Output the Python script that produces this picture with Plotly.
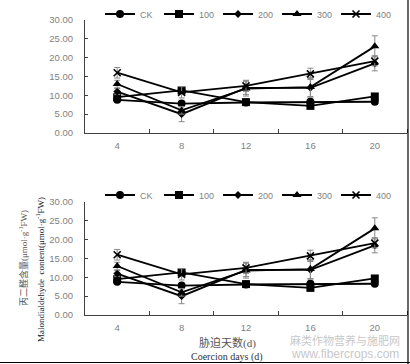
import plotly.graph_objects as go

days = [4, 8, 12, 16, 20]
series_names = ["CK", "100", "200", "300", "400"]
ck_vals = [8.8, 7.8, 8.1, 8.3, 8.3]
t100_vals = [9.5, 11.3, 8.2, 7.2, 9.7]
t200_vals = [11.0, 5.0, 12.0, 12.0, 18.5]
t300_vals = [13.0, 6.0, 11.8, 12.2, 23.0]
t400_vals = [16.0, 10.8, 12.5, 15.7, 19.1]
ck_err = [0.4, 0.4, 0.4, 0.5, 0.4]
t100_err = [0.5, 0.5, 0.5, 0.5, 0.5]
t200_err = [0.8, 2.0, 1.8, 2.5, 2.0]
t300_err = [1.0, 1.0, 2.0, 2.5, 2.8]
t400_err = [1.4, 1.5, 1.5, 1.5, 1.3]
y_ticks = [0, 5, 10, 15, 20, 25, 30]

values = [ck_vals, t100_vals, t200_vals, t300_vals, t400_vals]
errors = [ck_err, t100_err, t200_err, t300_err, t400_err]
symbols = ["circle", "square", "diamond", "triangle-up", "x-thin"]
msizes = [8, 8, 6, 8, 7]

fig = go.Figure()
for panel, (xa, ya, lg) in enumerate([("x", "y", "legend"), ("x2", "y2", "legend2")]):
    for name, v, e, s, ms in zip(series_names, values, errors, symbols, msizes):
        fig.add_trace(go.Scatter(
            x=days, y=v, name=name, mode="lines+markers",
            xaxis=xa, yaxis=ya, legend=lg,
            line=dict(color="black", width=1.8),
            marker=dict(symbol=s, size=ms, color="black",
                        line=dict(color="black", width=1.6 if s == "x-thin" else 0)),
            error_y=dict(type="data", array=e, visible=True, color="#888888",
                         thickness=1, width=3),
        ))

tickfont = dict(family="Liberation Sans, Arial", size=9.5, color="#7f7f7f")
xdom = [85 / 410, 407 / 410]
xcommon = dict(domain=xdom, range=[2, 22], tickvals=days, ticktext=[str(d) for d in days],
               ticks="", showline=True, linecolor="#404040", linewidth=1,
               showgrid=False, zeroline=False, tickfont=tickfont,
               minor=dict(tickvals=[6, 10, 14, 18, 22], ticks="inside", ticklen=4,
                          tickcolor="#404040", tickwidth=1, showgrid=False),
               ticklabelstandoff=4)
ycommon = dict(range=[0, 30], tickvals=y_ticks, tickformat=".2f", ticks="inside",
               ticklen=3, tickcolor="#404040", showline=True, linecolor="#404040",
               linewidth=1, showgrid=False, zeroline=False, tickfont=tickfont,
               ticklabelstandoff=9)

legcommon = dict(orientation="h", xanchor="left", yanchor="middle",
                 font=dict(family="Liberation Sans, Arial", size=9, color="#7f7f7f"),
                 bgcolor="rgba(0,0,0,0)", itemwidth=30, entrywidth=14,
                 entrywidthmode="pixels", tracegroupgap=0)

fig.update_layout(
    width=410, height=364,
    margin=dict(l=0, r=0, t=0, b=0, autoexpand=False),
    paper_bgcolor="white", plot_bgcolor="white",
    showlegend=True,
    xaxis=dict(anchor="y", **xcommon),
    yaxis=dict(anchor="x", domain=[1 - 133 / 364, 1 - 20 / 364], **ycommon),
    xaxis2=dict(anchor="y2", **xcommon),
    yaxis2=dict(anchor="x2", domain=[1 - 315 / 364, 1 - 202 / 364], **ycommon),
    legend=dict(x=100 / 410, y=1 - 14 / 364, **legcommon),
    legend2=dict(x=100 / 410, y=1 - 195 / 364, **legcommon),
)

serif = "Liberation Serif, Times New Roman, Noto Sans CJK SC"
ann = [
    dict(text="丙二醛含量(μmol·g<sup>-1</sup>FW)", x=23 / 410, y=1 - 258 / 364,
         textangle=-90, font=dict(family=serif, size=9, color="#555555")),
    dict(text="Malondialdehyde  content(μmol·g<sup>-1</sup>FW)", x=40 / 410, y=1 - 270 / 364,
         textangle=-90, font=dict(family=serif, size=9, color="#222222")),
    dict(text="胁迫天数(d)", x=227 / 410, y=1 - 343 / 364,
         font=dict(family=serif, size=11, color="#555555")),
    dict(text="Coercion days (d)", x=227 / 410, y=1 - 357 / 364,
         font=dict(family=serif, size=10, color="#333333")),
    dict(text="麻类作物营养与施肥网", x=345 / 410, y=1 - 340 / 364,
         font=dict(family="Noto Sans CJK SC", size=11, color="#c8c8c8")),
    dict(text="www.fibercrops.com", x=345 / 410, y=1 - 354 / 364,
         font=dict(family="Liberation Sans, Arial", size=12, color="#c8c8c8")),
]
for a in ann:
    a.update(xref="paper", yref="paper", showarrow=False, xanchor="center", yanchor="middle")
fig.update_layout(annotations=ann)

fig.update_layout(shapes=[
    dict(type="line", xref="paper", yref="paper", x0=408 / 410, x1=408 / 410, y0=0, y1=1,
         line=dict(color="black", width=1.2)),
    dict(type="line", xref="paper", yref="paper", x0=0, x1=1, y0=1 - 362.5 / 364, y1=1 - 362.5 / 364,
         line=dict(color="black", width=1.2)),
])

fig.write_html("out.html", config={"displayModeBar": False},
               post_script="document.body.style.margin='0';")
